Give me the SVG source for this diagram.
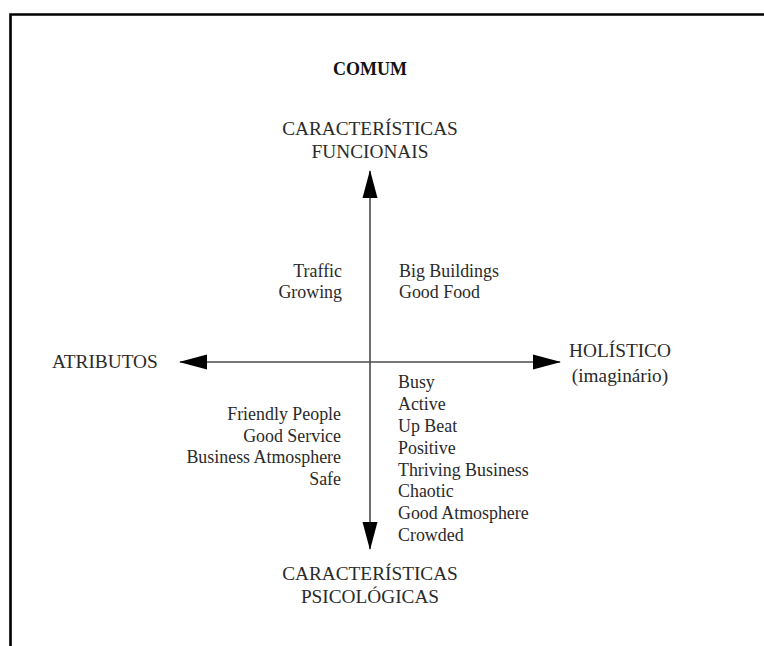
<svg xmlns="http://www.w3.org/2000/svg" width="764" height="646" viewBox="0 0 764 646">
  <style>
    text { font-family: "Liberation Serif", "Times New Roman", serif; fill: #2a2a2a; }
    .title { font-size: 18px; font-weight: bold; fill: #111; }
    .axis { font-size: 19.3px; }
    .item { font-size: 17.9px; }
    .axisline { stroke: #4a4a4a; stroke-width: 1.6; fill: none; marker-end: url(#arrow); }
  </style>
  <defs>
    <marker id="arrow" markerUnits="userSpaceOnUse" markerWidth="28" markerHeight="18" viewBox="0 0 28 18" refX="27" refY="9" orient="auto">
      <path d="M0,1.5 L28,9 L0,16.5 z" fill="#000"/>
    </marker>
  </defs>
  <rect x="0" y="0" width="764" height="646" fill="#fff"/>
  <path d="M10.5,660 L10.5,14.5 L780,14.5" fill="none" stroke="#000" stroke-width="2.6"/>

  <g id="comum">
    <text class="title" x="370" y="75" text-anchor="middle">COMUM</text>
  </g>
  <g id="funcionais">
    <text class="axis" x="370" y="135" text-anchor="middle">CARACTERÍSTICAS</text>
    <text class="axis" x="370" y="158" text-anchor="middle">FUNCIONAIS</text>
  </g>
  <g id="psicologicas">
    <text class="axis" x="370" y="580" text-anchor="middle">CARACTERÍSTICAS</text>
    <text class="axis" x="370" y="603" text-anchor="middle">PSICOLÓGICAS</text>
  </g>
  <g id="atributos">
    <text class="axis" x="52" y="368">ATRIBUTOS</text>
  </g>
  <g id="holistico">
    <text class="axis" x="620" y="357" text-anchor="middle">HOLÍSTICO</text>
    <text class="axis" x="620" y="382" text-anchor="middle">(imaginário)</text>
  </g>

  <g id="connectors">
    <line class="axisline" x1="370" y1="362" x2="370" y2="171"/>
    <line class="axisline" x1="370" y1="362" x2="370" y2="549"/>
    <line class="axisline" x1="370" y1="362" x2="180" y2="362"/>
    <line class="axisline" x1="370" y1="362" x2="560" y2="362"/>
  </g>

  <g id="q-top-left">
    <text class="item" x="342" y="277" text-anchor="end">Traffic</text>
    <text class="item" x="342" y="298" text-anchor="end">Growing</text>
  </g>
  <g id="q-top-right">
    <text class="item" x="399" y="277">Big Buildings</text>
    <text class="item" x="399" y="298">Good Food</text>
  </g>
  <g id="q-bottom-left">
    <text class="item" x="341" y="420" text-anchor="end">Friendly People</text>
    <text class="item" x="341" y="442" text-anchor="end">Good Service</text>
    <text class="item" x="341" y="463" text-anchor="end">Business Atmosphere</text>
    <text class="item" x="341" y="485" text-anchor="end">Safe</text>
  </g>
  <g id="q-bottom-right">
    <text class="item" x="398" y="388">Busy</text>
    <text class="item" x="398" y="410">Active</text>
    <text class="item" x="398" y="432">Up Beat</text>
    <text class="item" x="398" y="454">Positive</text>
    <text class="item" x="398" y="476">Thriving Business</text>
    <text class="item" x="398" y="497">Chaotic</text>
    <text class="item" x="398" y="519">Good Atmosphere</text>
    <text class="item" x="398" y="541">Crowded</text>
  </g>
</svg>
